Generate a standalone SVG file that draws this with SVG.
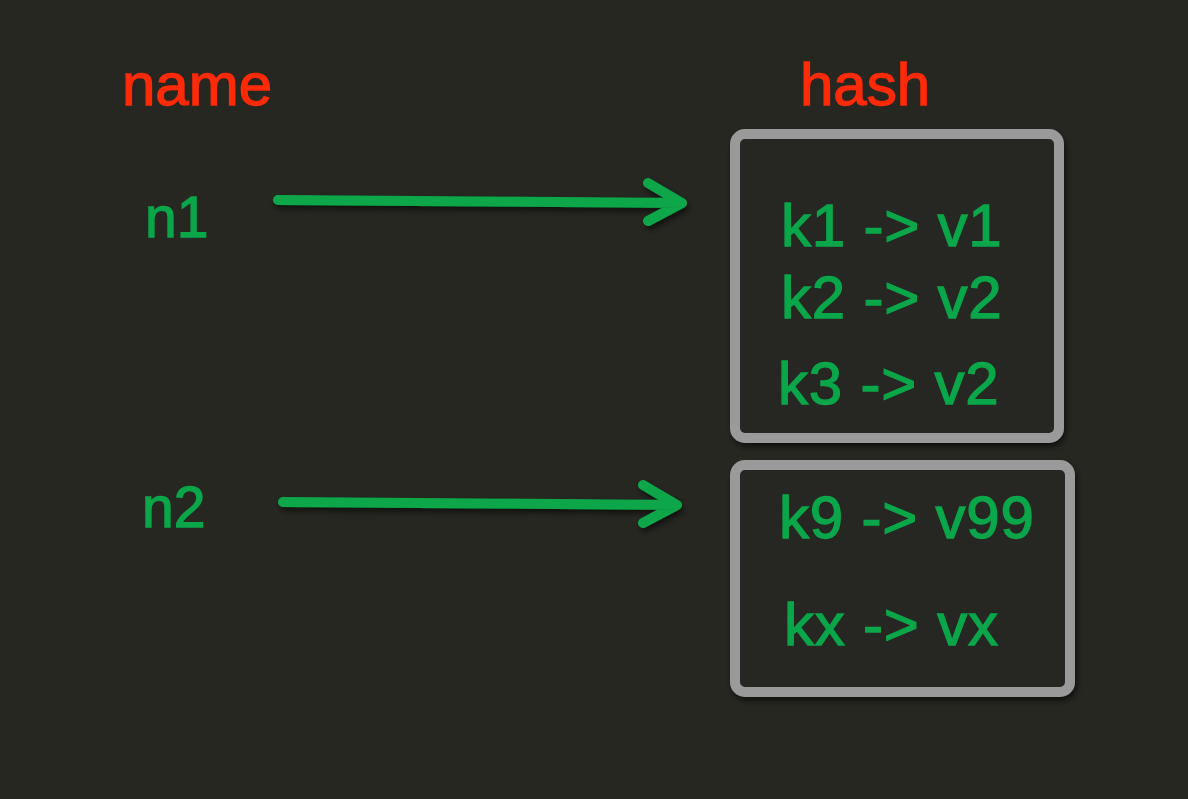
<svg xmlns="http://www.w3.org/2000/svg" width="1188" height="799" viewBox="0 0 1188 799">
<style>
.bg{fill:#272722}
.title{font-family:"Liberation Sans",Arial,sans-serif;font-size:60px;fill:#ff2a08;stroke:#ff2a08;stroke-width:1.3}
.lbl{font-family:"Liberation Sans",Arial,sans-serif;font-size:57px;fill:#0aa64a;stroke:#0aa64a;stroke-width:1.3}
.kv{font-family:"Liberation Sans",Arial,sans-serif;font-size:60px;fill:#0aa64a;stroke:#0aa64a;stroke-width:1.3;letter-spacing:0.8px}
.box{fill:#262622;stroke:#9a9a9a;stroke-width:10}
.arrow{fill:none;stroke:#0aa64a;stroke-width:10;stroke-linecap:round;stroke-linejoin:round}
</style>
<defs>
<filter id="sh" x="-10%" y="-50%" width="120%" height="200%">
<feDropShadow dx="2" dy="4" stdDeviation="3" flood-color="#000" flood-opacity="0.6"/>
</filter>
</defs>
<rect class="bg" x="0" y="0" width="1188" height="799"/>
<g id="title-name"><text class="title" x="122" y="105">name</text></g>
<g id="title-hash"><text class="title" x="800" y="105">hash</text></g>
<g id="n1"><text class="lbl" x="145" y="237">n1</text></g>
<g id="n2"><text class="lbl" x="142" y="527">n2</text></g>
<g id="hash1">
<rect class="box" x="735" y="134" width="324" height="304" rx="10" filter="url(#sh)"/>
<text class="kv" x="781" y="246">k1 -&gt; v1</text>
<text class="kv" x="781" y="318">k2 -&gt; v2</text>
<text class="kv" x="778" y="404">k3 -&gt; v2</text>
</g>
<g id="hash2">
<rect class="box" x="735" y="465" width="335" height="227" rx="10" filter="url(#sh)"/>
<text class="kv" x="779" y="538">k9 -&gt; v99</text>
<text class="kv" x="784" y="645">kx -&gt; vx</text>
</g>
<g id="connectors" filter="url(#sh)">
<path class="arrow" d="M278 200 L682 203 M648 183 L682 203 L648 221"/>
<path class="arrow" d="M283 502 L677 505 M643 485 L677 505 L643 523"/>
</g>
</svg>
